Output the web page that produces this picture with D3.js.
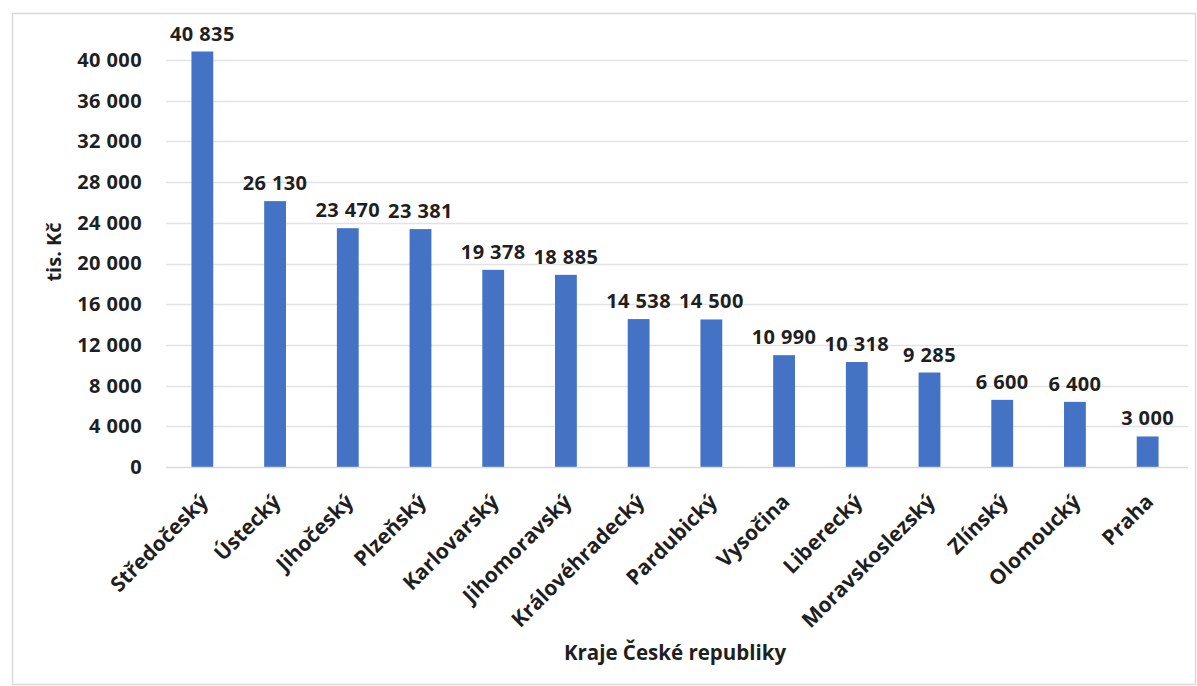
<!DOCTYPE html>
<html><head><meta charset="utf-8">
<script src="https://cdn.jsdelivr.net/npm/d3@7/dist/d3.min.js"></script>
<style>
body{margin:0;background:#fff;}
text{font-family:"Open Sans",sans-serif;font-weight:700;fill:#1f1f1f;}
</style></head>
<body><svg id="c" width="1197" height="686"></svg>
<script>
const categories = ["Středočeský","Ústecký","Jihočeský","Plzeňský","Karlovarský","Jihomoravský","Královéhradecký","Pardubický","Vysočina","Liberecký","Moravskoslezský","Zlínský","Olomoucký","Praha"];
const values = [40835,26130,23470,23381,19378,18885,14538,14500,10990,10318,9285,6600,6400,3000];
const yTicks = [0,4000,8000,12000,16000,20000,24000,28000,32000,36000,40000];
const yTitle = "tis. Kč";
const xTitle = "Kraje České republiky";

const fmt = v => d3.format(",")(v).replace(/,/g, " ");
const svg = d3.select("#c");
svg.append("rect").attr("x",12.5).attr("y",13.5).attr("width",1183).attr("height",671)
  .attr("fill","#fff").attr("stroke","#d9d9d9").attr("stroke-width",1.5);

const x = d3.scaleBand().domain(categories).range([166,1184]).paddingInner(0.7).paddingOuter(0.35);
const y = d3.scaleLinear().domain([0,40000]).range([467,60]);

// gridlines
svg.append("g").selectAll("line").data(yTicks.filter(t=>t>0)).join("line")
  .attr("x1",166).attr("x2",1188).attr("y1",d=>Math.round(y(d))+0.5).attr("y2",d=>Math.round(y(d))+0.5)
  .attr("stroke","#e3e3e3").attr("stroke-width",1.5);

// y axis labels
const yAxis = svg.append("g").attr("transform","translate(166,0)")
  .call(d3.axisLeft(y).tickValues(yTicks).tickFormat(fmt).tickSize(0).tickPadding(24));
yAxis.select(".domain").remove();
yAxis.selectAll("text").style("font-size","20px").style("letter-spacing","0.4px")
  .style("font-family","'Open Sans',sans-serif").style("font-weight","700").attr("fill","#1f1f1f");

// bars
svg.append("g").selectAll("rect").data(values).join("rect")
  .attr("x",(d,i)=>x(categories[i])).attr("width",x.bandwidth())
  .attr("y",d=>y(d)).attr("height",d=>y(0)-y(d)).attr("fill","#4472C4");

// baseline
svg.append("line").attr("x1",166).attr("x2",1188).attr("y1",467.5).attr("y2",467.5)
  .attr("stroke","#d9d9d9").attr("stroke-width",1.5);

// value labels
svg.append("g").selectAll("text").data(values).join("text")
  .attr("x",(d,i)=>x(categories[i])+x.bandwidth()/2).attr("y",d=>y(d)-11)
  .attr("text-anchor","middle").style("font-size","20px").style("letter-spacing","0.4px").text(fmt);

// x axis labels
const xAxis = svg.append("g").attr("transform","translate(0,467)")
  .call(d3.axisBottom(x).tickSize(0).tickPadding(0));
xAxis.select(".domain").remove();
xAxis.selectAll("text")
  .attr("text-anchor","end").attr("dy",null).attr("y",0)
  .attr("transform","translate(7,36) rotate(-45)")
  .style("font-size","21px").style("font-family","'Open Sans',sans-serif").style("font-weight","700").attr("fill","#1f1f1f");

// titles
svg.append("text").attr("transform","translate(61,252) rotate(-90)").attr("text-anchor","middle")
  .style("font-size","20px").text(yTitle);
svg.append("text").attr("x",675).attr("y",660).attr("text-anchor","middle")
  .style("font-size","20.5px").text(xTitle);
</script></body></html>
